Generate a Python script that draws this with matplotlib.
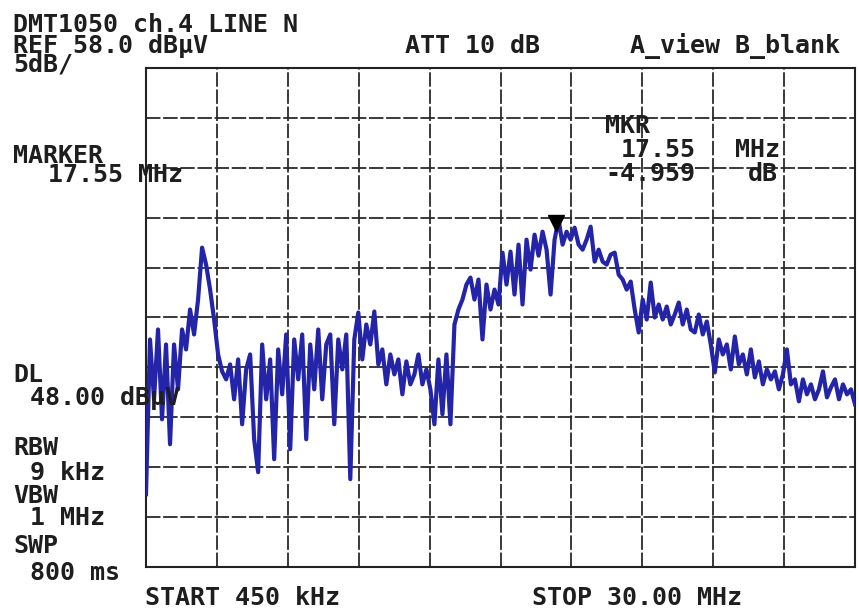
# 頻譜分析儀截圖重現：DMT1050 ch.4 LINE N
import numpy as np
import matplotlib.pyplot as plt
from matplotlib.transforms import offset_copy

# ====== 設定值 ======
start_mhz, stop_mhz = 0.45, 30.0
ref_db, db_per_div = 58.0, 5.0
n_div = 10
marker_freq = 17.55

# ====== 掃描資料（dBµV），從圖上逐點讀取 ======
level = [
    15.3, 30.8, 24.8, 31.8, 22.8, 30.3, 20.3, 30.3, 25.8, 31.8,
    29.8, 33.8, 31.3, 34.8, 40.0, 38.3, 35.8, 32.8, 29.3, 27.6,
    26.8, 28.3, 24.8, 28.8, 22.3, 27.8, 29.3, 20.8, 17.5, 30.3,
    24.8, 28.8, 18.8, 29.8, 25.3, 31.3, 19.8, 30.8, 26.8, 31.3,
    20.8, 30.3, 25.8, 31.8, 24.8, 30.3, 31.3, 22.3, 30.8, 27.8,
    31.3, 16.8, 30.8, 33.5, 28.8, 32.3, 30.3, 33.6, 28.3, 29.8,
    26.3, 29.3, 27.3, 28.8, 25.3, 28.6, 26.3, 27.3, 29.3, 26.3,
    27.8, 25.8, 22.3, 28.8, 23.3, 29.3, 22.3, 32.3, 33.8, 34.8,
    36.3, 37.0, 34.8, 36.8, 30.8, 36.3, 33.8, 35.8, 34.3, 39.5,
    36.3, 39.6, 35.3, 40.3, 34.3, 40.8, 37.8, 41.3, 39.2, 41.6,
    39.8, 35.3, 40.8, 42.8, 40.3, 41.6, 40.8, 42.0, 40.3, 39.8,
    40.8, 42.1, 38.6, 39.8, 38.6, 38.3, 39.3, 39.5, 37.3, 36.8,
    35.8, 36.6, 33.8, 31.5, 34.8, 32.8, 36.5, 33.0, 34.3, 32.8,
    34.1, 32.3, 33.3, 34.5, 32.3, 33.8, 31.8, 31.5, 33.3, 31.3,
    32.6, 30.3, 27.5, 30.8, 29.3, 30.3, 27.8, 31.1, 28.3, 29.3,
    27.3, 29.8, 27.0, 28.6, 26.3, 27.8, 26.8, 27.6, 25.8, 27.3,
    29.8, 26.3, 26.8, 24.6, 26.8, 25.3, 26.3, 24.8, 25.8, 27.6,
    25.0, 26.0, 26.8, 24.8, 26.3, 25.3, 25.8, 24.3,
]
freq = np.linspace(start_mhz, stop_mhz, len(level))   # 掃描點等間距

# ====== 文字（內容, 左 x, 基線 y）像素 ======
header = [("DMT1050 ch.4 LINE N", 13, 32),
          ("REF 58.0 dBµV", 13, 53),
          ("5dB/", 13, 72),
          ("ATT 10 dB", 405, 53),
          ("A_view B_blank", 630, 53)]
side = [("MARKER", 13, 163), ("17.55 MHz", 48, 182),
        ("DL", 13, 382), ("48.00 dBµV", 30, 405),
        ("RBW", 13, 455), ("9 kHz", 30, 480),
        ("VBW", 13, 503), ("1 MHz", 30, 525),
        ("SWP", 13, 553), ("800 ms", 30, 580)]
mkr = [("MKR", 605, 133), ("17.55", 621, 157), ("MHz", 735, 157),
       ("-4.959", 605, 181), ("dB", 748, 181)]
footer = [("START 450 kHz", 145, 605), ("STOP 30.00 MHz", 532, 605)]

W, H = 859, 611
fig = plt.figure(figsize=(W / 100, H / 100), dpi=100)
ax = fig.add_axes([146 / W, 1 - 567 / H, (855 - 146) / W, (567 - 68) / H])

# ====== 格線 ======
ax.set_xlim(start_mhz, stop_mhz)
ax.set_ylim(ref_db - n_div * db_per_div, ref_db)
ax.set_xticks(np.linspace(start_mhz, stop_mhz, n_div + 1))
ax.set_yticks(np.linspace(ref_db - n_div * db_per_div, ref_db, n_div + 1))
ax.tick_params(length=0, labelbottom=False, labelleft=False)
ax.grid(True, color="#2a2a2a", lw=1.3, ls=(0, (8, 1.5)))
for s in ax.spines.values():
    s.set_color("#222222"); s.set_linewidth(1.5)

# ====== 掃描曲線 + 標記三角形 ======
ax.plot(freq, level, color="#2424a8", lw=3.0, solid_joinstyle="round", zorder=3)
mi = np.argmin(np.abs(freq - marker_freq))
trans = offset_copy(ax.transData, fig=fig, y=12, units="points")
ax.plot([marker_freq], [level[mi]], marker="v", ms=12, color="black",
        transform=trans, clip_on=False, zorder=4)

font = dict(family="DejaVu Sans Mono", fontsize=18, fontweight="bold",
            color="#1e1e1e", va="baseline", ha="left")
for txt, x, y in header + side + mkr + footer:
    fig.text(x / W, 1 - y / H, txt, **font)

fig.savefig("out.png", dpi=100)
